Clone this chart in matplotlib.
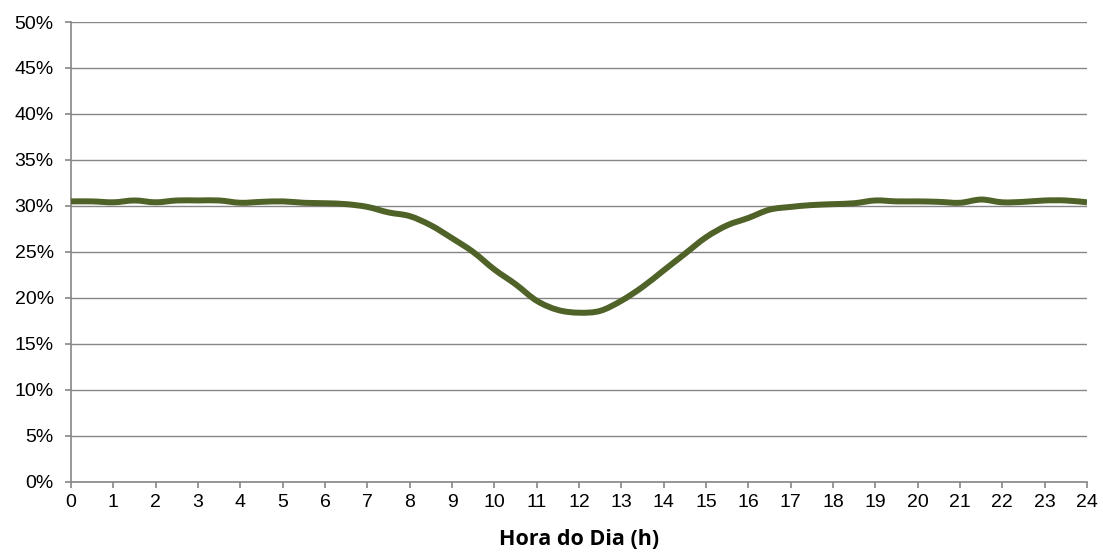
import matplotlib
matplotlib.use("Agg")
import matplotlib.pyplot as plt
import numpy as np
from matplotlib.path import Path
from matplotlib.patches import PathPatch
from matplotlib.ticker import FuncFormatter, MultipleLocator

# hour of day, half-hour steps
hours = np.arange(0, 24.5, 0.5)
share = [30.5, 30.5, 30.4, 30.6, 30.4, 30.6, 30.6, 30.6, 30.35, 30.45,
         30.5, 30.35, 30.3, 30.2, 29.9, 29.3, 28.9, 27.9, 26.5, 25.0,
         23.1, 21.5, 19.7, 18.7, 18.4, 18.6, 19.7, 21.2, 23.0, 24.8,
         26.6, 27.9, 28.7, 29.6, 29.9, 30.1, 30.2, 30.3, 30.6, 30.5,
         30.5, 30.45, 30.35, 30.7, 30.4, 30.45, 30.6, 30.6, 30.4]

xlabel = 'Hora do Dia (h)'
grey = '#868686'

plt.rcParams['font.family'] = ['Liberation Sans', 'DejaVu Sans']

fig = plt.figure(figsize=(11.03, 5.57), dpi=100)
ax = fig.add_axes([0.0644, 0.1347, 0.9211, 0.8258])

# smoothed line like Excel: Catmull-Rom segments as cubic Bezier curves
x = np.asarray(hours, float)
y = np.asarray(share, float)
verts = [(x[0], y[0])]
codes = [Path.MOVETO]
n = len(x)
for i in range(n - 1):
    x0, y0 = (x[i - 1], y[i - 1]) if i > 0 else (x[i], y[i])
    x3, y3 = (x[i + 2], y[i + 2]) if i + 2 < n else (x[i + 1], y[i + 1])
    c1 = (x[i] + (x[i + 1] - x0) / 6, y[i] + (y[i + 1] - y0) / 6)
    c2 = (x[i + 1] - (x3 - x[i]) / 6, y[i + 1] - (y3 - y[i]) / 6)
    verts += [c1, c2, (x[i + 1], y[i + 1])]
    codes += [Path.CURVE4] * 3
ax.add_patch(PathPatch(Path(verts, codes), facecolor='none',
                       edgecolor='#4F6228', lw=4.3, joinstyle='round',
                       capstyle='butt', zorder=3))

ax.set_xlim(0, 24)
ax.set_ylim(0, 50)
ax.xaxis.set_major_locator(MultipleLocator(1))
ax.yaxis.set_major_locator(MultipleLocator(5))
ax.yaxis.set_major_formatter(FuncFormatter(lambda v, p: '%d%%' % v))

ax.grid(axis='y', color=grey, lw=1)
ax.set_axisbelow(True)
for s in ['top', 'right']:
    ax.spines[s].set_visible(False)
for s in ['left', 'bottom']:
    ax.spines[s].set_color(grey)
    ax.spines[s].set_linewidth(1.2)
ax.tick_params(colors=grey, labelcolor='black', labelsize=14, length=4.5,
               width=1.2, direction='out')
ax.tick_params(axis='x', pad=4)
ax.tick_params(axis='y', pad=8)

ax.set_xlabel(xlabel, fontsize=15.5, fontweight='bold', family='Open Sans',
              labelpad=13)

plt.savefig('out.png', dpi=100)
